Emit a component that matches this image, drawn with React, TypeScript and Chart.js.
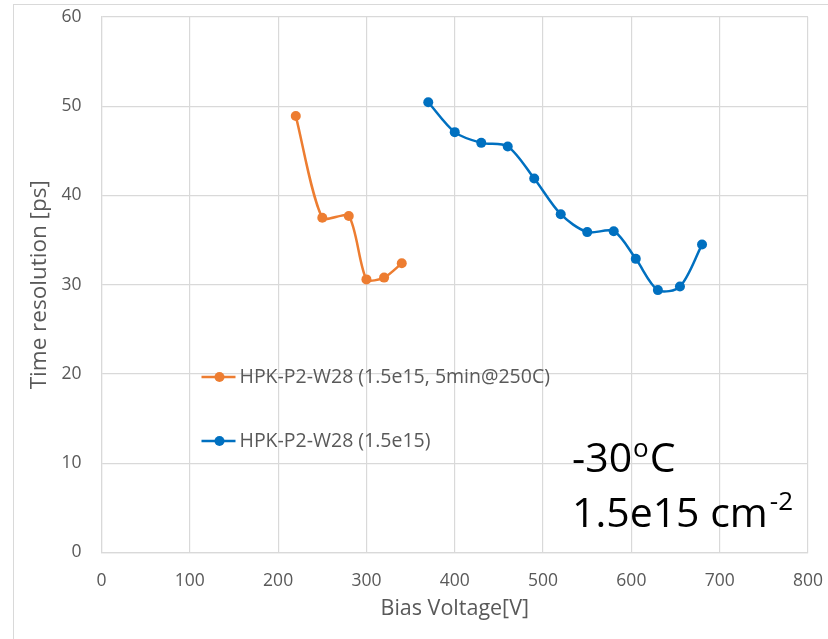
import React, { useEffect, useRef } from "react";
import { Chart, registerables } from "chart.js";

Chart.register(...registerables);

const annealedVoltages = [220, 250, 280, 300, 320, 340];
const annealedResolution = [48.9, 37.5, 37.7, 30.6, 30.8, 32.4];
const baseVoltages = [370, 400, 430, 460, 490, 520, 550, 580, 605, 630, 655, 680];
const baseResolution = [50.45, 47.1, 45.9, 45.5, 41.9, 37.9, 35.9, 36.0, 32.9, 29.4, 29.8, 34.5];
const xTicks = [0, 100, 200, 300, 400, 500, 600, 700, 800];
const yTicks = [0, 10, 20, 30, 40, 50, 60];
const seriesLabels = ["HPK-P2-W28 (1.5e15, 5min@250C)", "HPK-P2-W28 (1.5e15)"];
const seriesColors = ["#ED7D31", "#0070C0"];
const xTitle = "Bias Voltage[V]";
const yTitle = "Time resolution [ps]";

const FONT = "'Open Sans', 'Noto Sans', sans-serif";
const GRAY = "#595959";

const toPoints = (xs: number[], ys: number[]) => xs.map((x, i) => ({ x, y: ys[i] }));

const overlayPlugin = {
  id: "overlay",
  beforeDraw(chart: any) {
    const ctx = chart.ctx;
    ctx.save();
    ctx.strokeStyle = "#d9d9d9";
    ctx.lineWidth = 1;
    ctx.strokeRect(13.5, 4.5, 900, 900);
    ctx.restore();
  },
  afterDraw(chart: any) {
    const ctx = chart.ctx;
    const ca = chart.chartArea;
    ctx.save();
    // legend
    const legendX = ca.left + 100;
    const legendYs = [ca.top + 360, ca.top + 424];
    seriesLabels.forEach((label, i) => {
      const y = legendYs[i];
      ctx.strokeStyle = seriesColors[i];
      ctx.lineWidth = 2.5;
      ctx.beginPath();
      ctx.moveTo(legendX, y);
      ctx.lineTo(legendX + 34, y);
      ctx.stroke();
      ctx.fillStyle = seriesColors[i];
      ctx.beginPath();
      ctx.arc(legendX + 18, y, 5, 0, Math.PI * 2);
      ctx.fill();
      ctx.fillStyle = GRAY;
      ctx.font = `19.5px ${FONT}`;
      ctx.textBaseline = "middle";
      ctx.textAlign = "left";
      ctx.fillText(label, legendX + 38, y);
    });
    // annotation
    ctx.fillStyle = "#000";
    ctx.textBaseline = "alphabetic";
    const ax = 572;
    const big = `41px ${FONT}`;
    const small = `26px ${FONT}`;
    let x = ax;
    let y = 472;
    ctx.font = big;
    ctx.fillText("-30", x, y);
    x += ctx.measureText("-30").width;
    ctx.font = small;
    ctx.fillText("o", x + 1, y - 15);
    x += ctx.measureText("o").width + 2;
    ctx.font = big;
    ctx.fillText("C", x, y);
    x = ax;
    y = 527;
    ctx.fillText("1.5e15 cm", x, y);
    x += ctx.measureText("1.5e15 cm").width;
    ctx.font = small;
    ctx.fillText("-2", x + 2, y - 17);
    ctx.restore();
  },
};

export default function App() {
  const canvasRef = useRef<HTMLCanvasElement | null>(null);

  useEffect(() => {
    if (!canvasRef.current) return;
    const chart = new Chart(canvasRef.current, {
      type: "scatter",
      data: {
        datasets: [
          {
            label: seriesLabels[0],
            data: toPoints(annealedVoltages, annealedResolution),
            showLine: true,
            borderColor: seriesColors[0],
            backgroundColor: seriesColors[0],
            borderWidth: 2.5,
            pointRadius: 5,
            pointBorderWidth: 0,
            tension: 0.25,
          },
          {
            label: seriesLabels[1],
            data: toPoints(baseVoltages, baseResolution),
            showLine: true,
            borderColor: seriesColors[1],
            backgroundColor: seriesColors[1],
            borderWidth: 2.5,
            pointRadius: 5,
            pointBorderWidth: 0,
            tension: 0.3,
          },
        ],
      },
      options: {
        animation: false,
        responsive: false,
        maintainAspectRatio: false,
        layout: { padding: { left: 0, top: 17, right: 20, bottom: 0 } },
        plugins: { legend: { display: false }, tooltip: { enabled: false } },
        scales: {
          x: {
            type: "linear",
            min: 0,
            max: 800,
            afterBuildTicks: (scale: any) => {
              scale.ticks = xTicks.map((v) => ({ value: v }));
            },
            afterFit: (scale: any) => {
              scale.height = 86.5;
              scale.paddingLeft = 0;
              scale.paddingRight = 0;
            },
            grid: { color: "#d9d9d9", lineWidth: 1.2, drawTicks: false },
            border: { display: true, color: "#d9d9d9", width: 1.2 },
            ticks: { color: GRAY, font: { family: FONT, size: 17.5 }, padding: 18, maxRotation: 0 },
            title: { display: true, text: xTitle, color: GRAY, font: { family: FONT, size: 21.5 }, padding: { top: 0, bottom: 17 } },
          },
          y: {
            type: "linear",
            min: 0,
            max: 60,
            afterBuildTicks: (scale: any) => {
              scale.ticks = yTicks.map((v) => ({ value: v }));
            },
            afterFit: (scale: any) => {
              scale.width = 101.5;
              scale.paddingTop = 0;
              scale.paddingBottom = 0;
            },
            grid: { color: "#d9d9d9", lineWidth: 1.2, drawTicks: false },
            border: { display: true, color: "#d9d9d9", width: 1.2 },
            ticks: { color: GRAY, font: { family: FONT, size: 17.5 }, padding: 20 },
            title: { display: true, text: yTitle, color: GRAY, font: { family: FONT, size: 22.5 }, padding: { top: 26, bottom: 0 } },
          },
        },
      },
      plugins: [overlayPlugin],
    } as any);
    return () => chart.destroy();
  }, []);

  return (
    <div style={{ position: "fixed", left: 0, top: 0, width: 828, height: 639, background: "#fff" }}>
      <canvas ref={canvasRef} width={828} height={639} style={{ width: 828, height: 639 }} />
    </div>
  );
}
